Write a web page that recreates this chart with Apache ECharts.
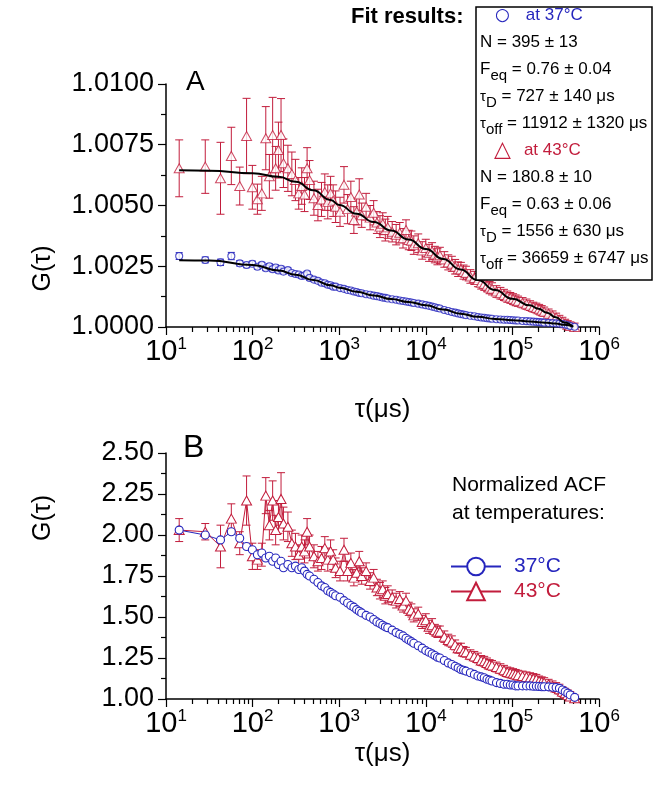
<!DOCTYPE html>
<html>
<head>
<meta charset="utf-8">
<script src="https://cdn.jsdelivr.net/npm/echarts@6/dist/echarts.min.js"></script>
<style>
  html, body { margin: 0; padding: 0; background: #fff; }
  #chart { width: 672px; height: 797px; }
</style>
</head>
<body>
<div id="chart"></div>
<script>
'use strict';

// lag times (us), shared by every measured curve
var tau = [14.2, 28.4, 42.6, 56.8, 71, 85.2, 99.4, 113.6, 127.8, 142, 156.2, 170.4, 184.6, 198.8, 213, 227.2,
  255.6, 284, 312.4, 340.8, 369.2, 397.6, 426, 454.4,
  511, 568, 625, 682, 738, 795, 852, 909,
  1022, 1136, 1250, 1363, 1477, 1590, 1704, 1818,
  2045, 2272, 2499, 2726, 2954, 3181, 3408, 3635,
  4090, 4544, 4999, 5453, 5907, 6362, 6816, 7270,
  8179, 9088, 9997, 10906, 11814, 12723, 13632, 14541,
  16358, 18176, 19994, 21811, 23629, 25446, 27264, 29082,
  32717, 36352, 39987, 43622, 47258, 50893, 54528, 58163,
  65434, 72704, 79974, 87245, 94515, 101786, 109056, 116326,
  130867, 145408, 159949, 174490, 189030, 203571, 218112, 232653,
  261734, 290816, 319898, 348979, 378061, 407142, 436224, 465306,
  523469];

// panel A, 43°C
var aRed = [1.00653, 1.00660, 1.00612, 1.00704, 1.00580, 1.00786, 1.00575, 1.00526, 1.00550, 1.00777, 1.00620, 1.00790, 1.00653, 1.00728, 1.00790, 1.00674,
  1.00653, 1.00630, 1.00605, 1.00550, 1.00580, 1.00545, 1.00653, 1.00605,
  1.00530, 1.00502, 1.00525, 1.00555, 1.00515, 1.00550, 1.00520, 1.00495,
  1.00474, 1.00585, 1.00485, 1.00535, 1.00440, 1.00475, 1.00545, 1.00460,
  1.00495, 1.00450, 1.00470, 1.00430, 1.00413, 1.00425, 1.00399, 1.00410,
  1.00392, 1.00380, 1.00388, 1.00365, 1.00399, 1.00358, 1.00355, 1.00337,
  1.00345, 1.00315, 1.00325, 1.00305, 1.00312, 1.00298, 1.00289, 1.00295,
  1.00278, 1.00266, 1.00260, 1.00248, 1.00238, 1.00237, 1.00226, 1.00222,
  1.00208, 1.00202, 1.00193, 1.00182, 1.00177, 1.00170, 1.00162, 1.00157,
  1.00146, 1.00139, 1.00132, 1.00125, 1.00120, 1.00115, 1.00110, 1.00106,
  1.00100, 1.00094, 1.00088, 1.00082, 1.00078, 1.00073, 1.00068, 1.00063,
  1.00055, 1.00047, 1.00039, 1.00030, 1.00022, 1.00015, 1.00009, 1.00004,
  1.00000];
var aRedErr = [0.00117, 0.00110, 0.00148, 0.00118, 0.00078, 0.00155, 0.00090, 0.00062, 0.00070, 0.00130, 0.00090, 0.00155, 0.00090, 0.00115, 0.00150, 0.00100,
  0.00095, 0.00090, 0.00085, 0.00065, 0.00075, 0.00070, 0.00085, 0.00080,
  0.00070, 0.00065, 0.00070, 0.00075, 0.00070, 0.00070, 0.00065, 0.00065,
  0.00060, 0.00075, 0.00060, 0.00065, 0.00055, 0.00055, 0.00065, 0.00050,
  0.00055, 0.00050, 0.00050, 0.00045, 0.00045, 0.00045, 0.00045, 0.00045,
  0.00042, 0.00042, 0.00042, 0.00040, 0.00042, 0.00040, 0.00040, 0.00038,
  0.00038, 0.00036, 0.00036, 0.00035, 0.00035, 0.00034, 0.00033, 0.00033,
  0.00032, 0.00031, 0.00031, 0.00030, 0.00030, 0.00029, 0.00029, 0.00028,
  0.00028, 0.00027, 0.00027, 0.00026, 0.00026, 0.00025, 0.00025, 0.00025,
  0.00024, 0.00024, 0.00023, 0.00023, 0.00022, 0.00022, 0.00022, 0.00021,
  0.00021, 0.00021, 0.00020, 0.00020, 0.00020, 0.00020, 0.00020, 0.00019,
  0.00019, 0.00019, 0.00018, 0.00018, 0.00018, 0.00017, 0.00017, 0.00017,
  0.00016];

// panel A, 37°C
var aBlue = [1.00292, 1.00276, 1.00266, 1.00292, 1.00262, 1.00255, 1.00260, 1.00248, 1.00256, 1.00242, 1.00250, 1.00238, 1.00245, 1.00233, 1.00240, 1.00228,
  1.00234, 1.00222, 1.00218, 1.00216, 1.00210, 1.00212, 1.00220, 1.00202,
  1.00195, 1.00190, 1.00182, 1.00180, 1.00174, 1.00172, 1.00166, 1.00166,
  1.00160, 1.00157, 1.00152, 1.00150, 1.00146, 1.00144, 1.00140, 1.00139,
  1.00135, 1.00133, 1.00129, 1.00127, 1.00124, 1.00121, 1.00120, 1.00117,
  1.00114, 1.00112, 1.00109, 1.00107, 1.00105, 1.00103, 1.00101, 1.00099,
  1.00096, 1.00093, 1.00090, 1.00087, 1.00084, 1.00081, 1.00078, 1.00076,
  1.00070, 1.00066, 1.00062, 1.00059, 1.00056, 1.00053, 1.00051, 1.00049,
  1.00046, 1.00044, 1.00041, 1.00039, 1.00038, 1.00036, 1.00035, 1.00034,
  1.00032, 1.00031, 1.00030, 1.00030, 1.00029, 1.00028, 1.00027, 1.00027,
  1.00025, 1.00024, 1.00023, 1.00022, 1.00021, 1.00020, 1.00019, 1.00018,
  1.00017, 1.00016, 1.00015, 1.00014, 1.00012, 1.00010, 1.00007, 1.00004,
  1.00001];
var aBlueErr = [0.00014, 0.00012, 0.00013, 0.00015, 0.00011, 0.00011, 0.00011, 0.00010, 0.00010, 0.00010, 0.00010, 0.00010, 0.00010, 0.00010, 0.00010, 0.00009,
  0.00009, 0.00009, 0.00009, 0.00009, 0.00009, 0.00009, 0.00009, 0.00009,
  0.00008, 0.00008, 0.00008, 0.00008, 0.00008, 0.00008, 0.00008, 0.00008,
  0.00008, 0.00008, 0.00008, 0.00008, 0.00008, 0.00008, 0.00008, 0.00008,
  0.00007, 0.00007, 0.00007, 0.00007, 0.00007, 0.00007, 0.00007, 0.00007,
  0.00007, 0.00007, 0.00007, 0.00007, 0.00007, 0.00007, 0.00007, 0.00007,
  0.00006, 0.00006, 0.00006, 0.00006, 0.00006, 0.00006, 0.00006, 0.00006,
  0.00006, 0.00006, 0.00006, 0.00006, 0.00006, 0.00006, 0.00006, 0.00006,
  0.00005, 0.00005, 0.00005, 0.00005, 0.00005, 0.00005, 0.00005, 0.00005,
  0.00005, 0.00005, 0.00005, 0.00005, 0.00005, 0.00005, 0.00005, 0.00005,
  0.00005, 0.00005, 0.00005, 0.00005, 0.00005, 0.00005, 0.00005, 0.00005,
  0.00004, 0.00004, 0.00004, 0.00004, 0.00004, 0.00004, 0.00004, 0.00004,
  0.00004];

// fit curves of panel A
var fitTau = [14.2, 31.6, 100, 200, 316, 501, 794, 1000, 1585, 2512, 3981, 6310, 10000, 15849, 25119, 39811, 63096, 100000, 158489, 199526, 251189, 316228, 398107, 501187];
var fitRed = [1.00645, 1.00643, 1.00633, 1.00618, 1.00598, 1.00563, 1.00523, 1.00502, 1.00466, 1.00432, 1.00397, 1.00360, 1.00321, 1.00280, 1.00237, 1.00193, 1.00152, 1.00116, 1.00089, 1.00075, 1.00059, 1.00040, 1.00019, 1.00000];
var fitBlue = [1.00275, 1.00274, 1.00255, 1.00233, 1.00215, 1.00193, 1.00172, 1.00162, 1.00145, 1.00130, 1.00115, 1.00103, 1.00090, 1.00072, 1.00055, 1.00042, 1.00033, 1.00028, 1.00023, 1.00020, 1.00017, 1.00014, 1.00009, 1.00002];

// panel B, normalized
var bBlue = [2.03, 2.00, 1.97, 2.02, 1.98, 1.93, 1.91, 1.88, 1.89, 1.86, 1.87, 1.84, 1.86, 1.82, 1.84, 1.80,
  1.82, 1.80, 1.81, 1.79, 1.80, 1.78, 1.76, 1.75,
  1.73, 1.71, 1.69, 1.68, 1.66, 1.65, 1.64, 1.63,
  1.62, 1.60, 1.585, 1.57, 1.56, 1.545, 1.535, 1.525,
  1.51, 1.50, 1.485, 1.47, 1.46, 1.45, 1.44, 1.435,
  1.42, 1.405, 1.395, 1.385, 1.37, 1.36, 1.35, 1.34,
  1.325, 1.31, 1.295, 1.285, 1.275, 1.265, 1.255, 1.25,
  1.235, 1.22, 1.21, 1.20, 1.19, 1.18, 1.175, 1.17,
  1.16, 1.15, 1.14, 1.135, 1.13, 1.12, 1.115, 1.11,
  1.10, 1.095, 1.09, 1.09, 1.085, 1.085, 1.08, 1.08,
  1.08, 1.08, 1.08, 1.078, 1.078, 1.076, 1.075, 1.075,
  1.074, 1.072, 1.07, 1.065, 1.055, 1.045, 1.035, 1.025,
  1.01];
var bRed = [2.03, 2.02, 1.93, 2.10, 1.95, 2.21, 1.87, 1.85, 1.88, 2.24, 2.06, 2.21, 2.03, 2.11, 2.22, 2.07,
  2.05, 1.95, 1.93, 1.88, 1.93, 1.90, 2.02, 1.93,
  1.87, 1.84, 1.86, 1.92, 1.85, 1.90, 1.85, 1.80,
  1.78, 1.91, 1.78, 1.83, 1.74, 1.77, 1.84, 1.75,
  1.78, 1.72, 1.74, 1.68, 1.66, 1.67, 1.63, 1.64,
  1.62, 1.60, 1.61, 1.57, 1.60, 1.55, 1.54, 1.51,
  1.52, 1.47, 1.48, 1.44, 1.45, 1.42, 1.41, 1.41,
  1.38, 1.36, 1.35, 1.33, 1.31, 1.31, 1.29, 1.285,
  1.27, 1.26, 1.25, 1.235, 1.23, 1.22, 1.21, 1.205,
  1.195, 1.185, 1.175, 1.165, 1.16, 1.155, 1.15, 1.145,
  1.14, 1.135, 1.13, 1.125, 1.12, 1.11, 1.105, 1.10,
  1.09, 1.08, 1.07, 1.06, 1.045, 1.035, 1.025, 1.015,
  1.005];
var bRedErr = [0.07, 0.05, 0.13, 0.09, 0.07, 0.15, 0.08, 0.06, 0.07, 0.11, 0.09, 0.12, 0.09, 0.10, 0.16, 0.10,
  0.09, 0.08, 0.08, 0.06, 0.07, 0.07, 0.08, 0.07,
  0.07, 0.06, 0.07, 0.07, 0.07, 0.07, 0.06, 0.06,
  0.06, 0.07, 0.06, 0.06, 0.05, 0.05, 0.06, 0.05,
  0.05, 0.05, 0.05, 0.05, 0.05, 0.05, 0.05, 0.05,
  0.045, 0.045, 0.045, 0.04, 0.045, 0.04, 0.04, 0.04,
  0.04, 0.04, 0.04, 0.04, 0.04, 0.035, 0.035, 0.035,
  0.035, 0.035, 0.035, 0.03, 0.03, 0.03, 0.03, 0.03,
  0.03, 0.03, 0.03, 0.03, 0.03, 0.03, 0.03, 0.03,
  0.03, 0.03, 0.03, 0.03, 0.03, 0.03, 0.03, 0.03,
  0.03, 0.03, 0.03, 0.03, 0.03, 0.03, 0.03, 0.03,
  0.03, 0.03, 0.03, 0.03, 0.03, 0.03, 0.03, 0.03,
  0.02];

var fitLines = [
  '{cir|○}{c37|at 37°C}',
  '{n|N = 395 ± 13}',
  '{n|F}{sub|eq}{n| = 0.76 ± 0.04}',
  '{tau|τ}{sub|D}{n| = 727 ± 140 μs}',
  '{tau|τ}{sub|off}{n| = 11912 ± 1320 μs}',
  '{tri|△}{c43|at 43°C}',
  '{n|N = 180.8 ± 10}',
  '{n|F}{sub|eq}{n| = 0.63 ± 0.06}',
  '{tau|τ}{sub|D}{n| = 1556 ± 630 μs}',
  '{tau|τ}{sub|off}{n| = 36659 ± 6747 μs}'
];

var FONT = '"Liberation Sans", Arial, sans-serif';
var BLUE = '#2626bd';
var RED = '#c21d3c';

function pairs(xs, ys) {
  return xs.map(function (x, i) { return [x, ys[i]]; });
}
function triples(xs, ys, es) {
  return xs.map(function (x, i) { return [x, ys[i], es[i]]; });
}

function errorBars(color, cap) {
  return function (params, api) {
    var x = api.value(0), y = api.value(1), e = api.value(2);
    var hi = api.coord([x, y + e]);
    var lo = api.coord([x, y - e]);
    var style = { stroke: color, lineWidth: 1 };
    return {
      type: 'group',
      children: [
        { type: 'line', shape: { x1: hi[0], y1: hi[1], x2: lo[0], y2: lo[1] }, style: style },
        { type: 'line', shape: { x1: hi[0] - cap, y1: hi[1], x2: hi[0] + cap, y2: hi[1] }, style: style },
        { type: 'line', shape: { x1: lo[0] - cap, y1: lo[1], x2: lo[0] + cap, y2: lo[1] }, style: style }
      ]
    };
  };
}

function xAxisFor(idx, gap) {
  return {
    type: 'log', logBase: 10, gridIndex: idx, min: 10, max: 1000000,
    name: 'τ(μs)', nameLocation: 'middle', nameGap: gap,
    nameTextStyle: { fontSize: 26, color: '#000', fontFamily: FONT },
    axisLine: { lineStyle: { color: '#000', width: 1.5 } },
    axisTick: { length: 8, lineStyle: { color: '#000', width: 1.2 } },
    // log minor ticks at 2..9 x 10^n
    minorTick: { show: true, splitNumber: 9, length: 5, lineStyle: { color: '#000', width: 1.2 } },
    splitLine: { show: false },
    minorSplitLine: { show: false },
    axisLabel: {
      margin: 9,
      formatter: function (v) { return '{b|10}{s|' + Math.round(Math.log10(v)) + '}'; },
      rich: {
        b: { fontSize: 29, lineHeight: 32, color: '#000', fontFamily: FONT },
        s: { fontSize: 17, lineHeight: 17, verticalAlign: 'top', color: '#000', fontFamily: FONT }
      }
    }
  };
}

function yAxisFor(idx, min, max, step, digits, pad) {
  return {
    type: 'value', gridIndex: idx, min: min, max: max, interval: step,
    name: 'G(τ)', nameLocation: 'middle', nameGap: 110,
    nameTextStyle: { fontSize: 25, color: '#000', fontFamily: FONT, padding: pad },
    axisLine: { show: true, lineStyle: { color: '#000', width: 1.5 } },
    axisTick: { show: true, length: 8, lineStyle: { color: '#000', width: 1.2 } },
    minorTick: { show: true, splitNumber: 2, length: 5, lineStyle: { color: '#000', width: 1.2 } },
    splitLine: { show: false },
    axisLabel: {
      margin: 12, fontSize: 27, color: '#000', fontFamily: FONT,
      formatter: function (v) { return v.toFixed(digits); }
    }
  };
}

var chart = echarts.init(document.getElementById('chart'));

var normal = { fontWeight: 'normal', fontFamily: FONT };
function rs(extra) { return Object.assign({}, normal, extra); }

var option = {
  animation: false,
  backgroundColor: '#fff',
  textStyle: { fontFamily: FONT },
  title: [
    { text: 'A', left: 186, top: 68, padding: 0, textStyle: { fontSize: 28, fontWeight: 'normal', color: '#000' } },
    { text: 'B', left: 183, top: 432, padding: 0, textStyle: { fontSize: 32, fontWeight: 'normal', color: '#000' } },
    { text: 'Fit results:', left: 351, top: 6, padding: 0, textStyle: { fontSize: 22, fontWeight: 'bold', color: '#000' } },
    {
      text: fitLines.join('\n'), left: 476, top: 2, padding: [0, 4, 8, 4],
      borderColor: '#000', borderWidth: 1.5, backgroundColor: '#fff',
      textStyle: {
        width: 179, fontWeight: 'normal',
        rich: {
          n: rs({ fontSize: 17, lineHeight: 27, color: '#000' }),
          sub: rs({ fontSize: 15, lineHeight: 15, verticalAlign: 'bottom', color: '#000' }),
          tau: rs({ fontSize: 15, lineHeight: 27, color: '#000' }),
          cir: rs({ fontSize: 17, lineHeight: 27, color: BLUE, fontFamily: 'DejaVu Sans', padding: [0, 0, 0, 15] }),
          tri: rs({ fontSize: 22, lineHeight: 27, color: RED, fontFamily: 'DejaVu Sans', padding: [0, 0, 0, 14] }),
          c37: rs({ fontSize: 17, lineHeight: 27, color: BLUE, padding: [0, 0, 0, 16] }),
          c43: rs({ fontSize: 17, lineHeight: 27, color: RED, padding: [0, 0, 0, 13] })
        }
      }
    },
    { text: 'Normalized ACF\nat temperatures:', left: 452, top: 471, padding: 0,
      textStyle: { fontSize: 21, lineHeight: 28, fontWeight: 'normal', color: '#000' } }
  ],
  legend: {
    data: [
      { name: '37°C', textStyle: { color: BLUE } },
      { name: '43°C', textStyle: { color: RED } }
    ],
    orient: 'vertical', left: 450, top: 556, padding: 0,
    itemWidth: 50, itemHeight: 22, itemGap: 4, selectedMode: false,
    textStyle: { fontSize: 21, fontFamily: FONT, padding: [0, 0, 0, 8] }
  },
  grid: [
    { left: 166, right: 73, top: 84, height: 243 },
    { left: 166, right: 73, top: 453, height: 246 }
  ],
  xAxis: [xAxisFor(0, 70), xAxisFor(1, 42)],
  yAxis: [
    yAxisFor(0, 1.0, 1.01, 0.0025, 4, [0, 126, 0, 0]),
    yAxisFor(1, 1.0, 2.5, 0.25, 2, [0, 0, 0, 116])
  ],
  series: [
    // panel A
    { type: 'custom', name: 'errA43', xAxisIndex: 0, yAxisIndex: 0, clip: true, z: 2,
      renderItem: errorBars(RED, 4), encode: { x: 0, y: 1 }, data: triples(tau, aRed, aRedErr) },
    { type: 'custom', name: 'errA37', xAxisIndex: 0, yAxisIndex: 0, clip: true, z: 2,
      renderItem: errorBars(BLUE, 3.5), encode: { x: 0, y: 1 }, data: triples(tau, aBlue, aBlueErr) },
    { type: 'scatter', name: 'A 43', xAxisIndex: 0, yAxisIndex: 0, z: 3,
      symbol: 'triangle', symbolSize: [10, 9],
      itemStyle: { color: '#fff', borderColor: RED, borderWidth: 1 },
      data: pairs(tau, aRed) },
    { type: 'scatter', name: 'A 37', xAxisIndex: 0, yAxisIndex: 0, z: 3,
      symbol: 'circle', symbolSize: 7,
      itemStyle: { color: '#fff', borderColor: BLUE, borderWidth: 1.1 },
      data: pairs(tau, aBlue) },
    { type: 'line', name: 'fit 43', xAxisIndex: 0, yAxisIndex: 0, z: 4, smooth: 0.5, smoothMonotone: 'x',
      showSymbol: false, lineStyle: { color: '#000', width: 2 }, data: pairs(fitTau, fitRed) },
    { type: 'line', name: 'fit 37', xAxisIndex: 0, yAxisIndex: 0, z: 4, smooth: 0.5, smoothMonotone: 'x',
      showSymbol: false, lineStyle: { color: '#000', width: 2 }, data: pairs(fitTau, fitBlue) },
    // panel B
    { type: 'custom', name: 'errB43', xAxisIndex: 1, yAxisIndex: 1, clip: true, z: 2,
      renderItem: errorBars(RED, 4), encode: { x: 0, y: 1 }, data: triples(tau, bRed, bRedErr) },
    { type: 'line', name: '43°C', xAxisIndex: 1, yAxisIndex: 1, z: 3,
      symbol: 'triangle', symbolSize: [10, 9], showAllSymbol: true,
      lineStyle: { color: RED, width: 1 },
      itemStyle: { color: '#fff', borderColor: RED, borderWidth: 1 },
      data: pairs(tau, bRed) },
    { type: 'line', name: '37°C', xAxisIndex: 1, yAxisIndex: 1, z: 3,
      symbol: 'circle', symbolSize: 8, showAllSymbol: true,
      lineStyle: { color: BLUE, width: 1 },
      itemStyle: { color: '#fff', borderColor: BLUE, borderWidth: 1.1 },
      data: pairs(tau, bBlue) }
  ]
};

chart.setOption(option);
</script>
</body>
</html>
